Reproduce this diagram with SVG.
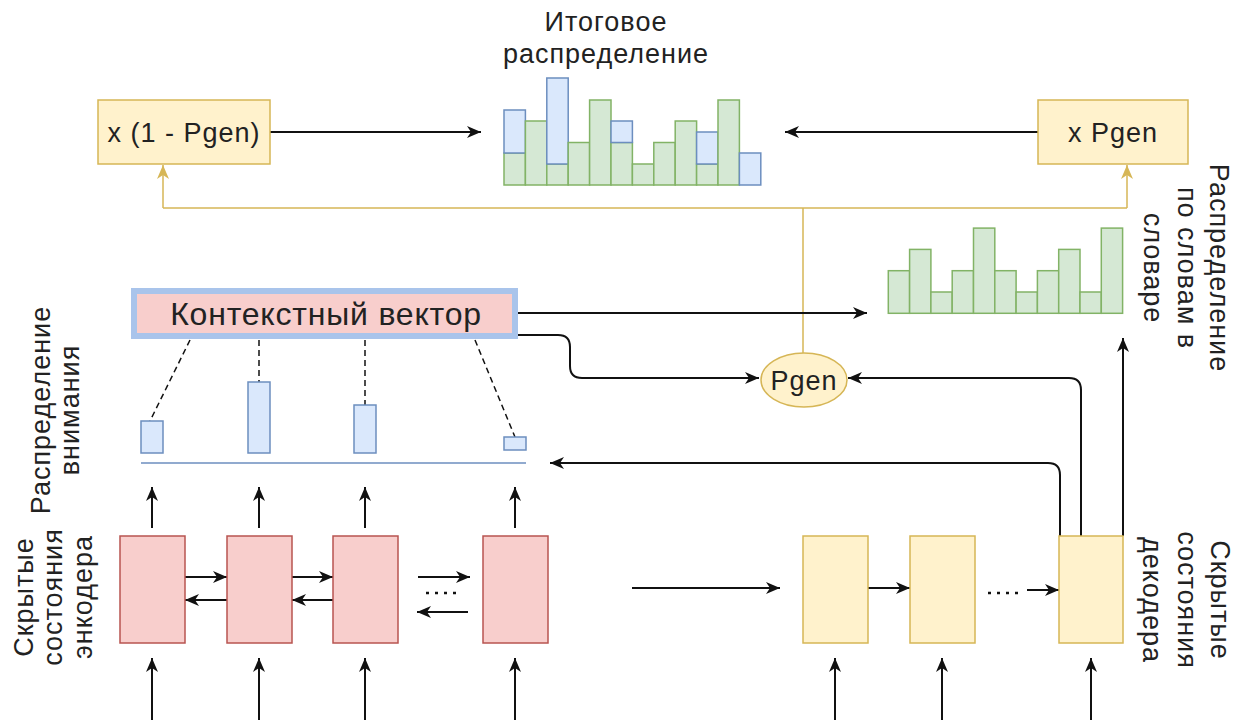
<svg xmlns="http://www.w3.org/2000/svg" width="1243" height="726" viewBox="0 0 1243 726">
  <defs>
    <marker id="arrow" viewBox="0 0 14 12" refX="14" refY="6" markerWidth="14" markerHeight="12" markerUnits="userSpaceOnUse" orient="auto">
      <path d="M0,0 L14,6 L0,12 L4,6 z" fill="#111"/>
    </marker>
    <marker id="arrow-gold" viewBox="0 0 14 12" refX="14" refY="6" markerWidth="14" markerHeight="12" markerUnits="userSpaceOnUse" orient="auto">
      <path d="M0,0 L14,6 L0,12 L4,6 z" fill="#d6b656"/>
    </marker>
    <style>
      .t { font-family: "Liberation Sans", Arial, sans-serif; font-size: 27px; letter-spacing: 1px; fill: #222; }
      .mid { text-anchor: middle; }
      .yel { fill: #fff2cc; stroke: #d6b656; stroke-width: 1.5; }
      .red { fill: #f8cecc; stroke: #b85450; stroke-width: 1.5; }
      .blu { fill: #dae8fc; stroke: #6c8ebf; stroke-width: 1.5; }
      .grn { fill: #d5e8d4; stroke: #82b366; stroke-width: 1.5; }
      .edge { fill: none; stroke: #111; stroke-width: 2; marker-end: url(#arrow); }
      .gold { fill: none; stroke: #d6b656; stroke-width: 1.5; }
      .gold-arrow { fill: none; stroke: #d6b656; stroke-width: 1.5; marker-end: url(#arrow-gold); }
      .dash { fill: none; stroke: #111; stroke-width: 1.5; stroke-dasharray: 6 4; }
      .dots { fill: none; stroke: #111; stroke-width: 2.5; stroke-dasharray: 3 6; }
    </style>
  </defs>

  <!-- connectors -->
  <g id="connectors">
    <!-- mixing weights to the final distribution -->
    <line class="edge" x1="270" y1="132" x2="481" y2="132"/>
    <line class="edge" x1="1038" y1="132" x2="785" y2="132"/>
    <!-- Pgen feeding both weight boxes -->
    <polyline class="gold" points="163,208 1127,208"/>
    <line class="gold" x1="803" y1="208" x2="803" y2="353"/>
    <line class="gold-arrow" x1="163" y1="208" x2="163" y2="165"/>
    <line class="gold-arrow" x1="1127" y1="208" x2="1127" y2="165"/>
    <!-- context vector outputs -->
    <line class="edge" x1="518" y1="313" x2="867" y2="313"/>
    <path class="edge" d="M518,335 H558 Q570,335 570,347 V366 Q570,378 582,378 H759"/>
    <!-- decoder state outputs -->
    <path class="edge" d="M1081,536 V390 Q1081,378 1069,378 H848"/>
    <path class="edge" d="M1060,536 V475 Q1060,463 1048,463 H550"/>
    <line class="edge" x1="1123" y1="536" x2="1123" y2="338"/>
    <!-- attention weights gathered into the context vector -->
    <line class="dash" x1="190" y1="340" x2="150" y2="421"/>
    <line class="dash" x1="259" y1="340" x2="259" y2="382"/>
    <line class="dash" x1="365" y1="340" x2="365" y2="405"/>
    <line class="dash" x1="475" y1="340" x2="515" y2="437"/>
    <!-- encoder: states up to attention, inputs from below -->
    <line class="edge" x1="152" y1="528" x2="152" y2="487"/>
    <line class="edge" x1="259" y1="528" x2="259" y2="487"/>
    <line class="edge" x1="365" y1="528" x2="365" y2="487"/>
    <line class="edge" x1="515" y1="528" x2="515" y2="487"/>
    <line class="edge" x1="152" y1="720" x2="152" y2="658"/>
    <line class="edge" x1="259" y1="720" x2="259" y2="658"/>
    <line class="edge" x1="365" y1="720" x2="365" y2="658"/>
    <line class="edge" x1="515" y1="720" x2="515" y2="658"/>
    <!-- bidirectional links -->
    <line class="edge" x1="185" y1="577" x2="227" y2="577"/>
    <line class="edge" x1="292" y1="577" x2="333" y2="577"/>
    <line class="edge" x1="227" y1="600" x2="185" y2="600"/>
    <line class="edge" x1="333" y1="600" x2="292" y2="600"/>
    <line class="edge" x1="418" y1="577" x2="470" y2="577"/>
    <line class="dots" x1="426" y1="593" x2="458" y2="593"/>
    <line class="edge" x1="468" y1="612" x2="417" y2="612"/>
    <!-- encoder to decoder -->
    <line class="edge" x1="632" y1="588" x2="780" y2="588"/>
    <!-- decoder chain and inputs -->
    <line class="edge" x1="868" y1="588" x2="910" y2="588"/>
    <line class="dots" x1="988" y1="593" x2="1020" y2="593"/>
    <line class="edge" x1="1027" y1="590" x2="1059" y2="590"/>
    <line class="edge" x1="835" y1="720" x2="835" y2="658"/>
    <line class="edge" x1="942" y1="720" x2="942" y2="658"/>
    <line class="edge" x1="1091" y1="720" x2="1091" y2="658"/>
  </g>

  <!-- weight (1 - Pgen) -->
  <g id="w-copy">
    <rect class="yel" x="98" y="100" width="172" height="64"/>
    <text class="t mid" x="184" y="142">x (1 - Pgen)</text>
  </g>

  <!-- weight Pgen -->
  <g id="w-gen">
    <rect class="yel" x="1038" y="100" width="150" height="64"/>
    <text class="t mid" x="1113" y="142">x Pgen</text>
  </g>

  <!-- final distribution -->
  <g id="final-dist">
    <text class="t mid" x="606" y="31">Итоговое</text>
    <text class="t mid" x="606" y="63">распределение</text>
    <g>
      <rect class="grn" x="504" y="153" width="21.4" height="32"/>
      <rect class="blu" x="504" y="110" width="21.4" height="43"/>
      <rect class="grn" x="525.4" y="121" width="21.4" height="64"/>
      <rect class="grn" x="546.8" y="164" width="21.4" height="21"/>
      <rect class="blu" x="546.8" y="78" width="21.4" height="86"/>
      <rect class="grn" x="568.2" y="142.5" width="21.4" height="42.5"/>
      <rect class="grn" x="589.6" y="100" width="21.4" height="85"/>
      <rect class="grn" x="611" y="142.5" width="21.4" height="42.5"/>
      <rect class="blu" x="611" y="121" width="21.4" height="21.5"/>
      <rect class="grn" x="632.4" y="164" width="21.4" height="21"/>
      <rect class="grn" x="653.8" y="142.5" width="21.4" height="42.5"/>
      <rect class="grn" x="675.2" y="121" width="21.4" height="64"/>
      <rect class="grn" x="696.6" y="164" width="21.4" height="21"/>
      <rect class="blu" x="696.6" y="132" width="21.4" height="32"/>
      <rect class="grn" x="718" y="100" width="21.4" height="85"/>
      <rect class="blu" x="739.4" y="153" width="21.4" height="32"/>
    </g>
  </g>

  <!-- vocabulary distribution -->
  <g id="vocab-dist">
    <rect class="grn" x="888.3" y="270.7" width="21.3" height="42.6"/>
    <rect class="grn" x="909.6" y="249.4" width="21.3" height="63.9"/>
    <rect class="grn" x="930.9" y="292" width="21.3" height="21.3"/>
    <rect class="grn" x="952.2" y="270.7" width="21.3" height="42.6"/>
    <rect class="grn" x="973.5" y="228.1" width="21.3" height="85.2"/>
    <rect class="grn" x="994.8" y="270.7" width="21.3" height="42.6"/>
    <rect class="grn" x="1016.1" y="292" width="21.3" height="21.3"/>
    <rect class="grn" x="1037.4" y="270.7" width="21.3" height="42.6"/>
    <rect class="grn" x="1058.7" y="249.4" width="21.3" height="63.9"/>
    <rect class="grn" x="1080" y="292" width="21.3" height="21.3"/>
    <rect class="grn" x="1101.3" y="228.1" width="21.3" height="85.2"/>
    <text class="t mid" transform="translate(1210,268) rotate(90)">Распределение</text>
    <text class="t mid" transform="translate(1178,268) rotate(90)">по словам в</text>
    <text class="t mid" transform="translate(1144,268) rotate(90)">словаре</text>
  </g>

  <!-- context vector -->
  <g id="context">
    <rect x="134" y="291" width="381" height="45" fill="#f8cecc" stroke="#a9c4eb" stroke-width="6"/>
    <text class="t mid" x="326" y="325" style="font-size:32px;letter-spacing:0.8px">Контекстный вектор</text>
  </g>

  <!-- generation probability -->
  <g id="pgen">
    <ellipse class="yel" cx="804" cy="380" rx="43" ry="27"/>
    <text class="t mid" x="804" y="390">Pgen</text>
  </g>

  <!-- attention distribution -->
  <g id="attention">
    <rect class="blu" x="141" y="421" width="22" height="32"/>
    <rect class="blu" x="248" y="382" width="22" height="71"/>
    <rect class="blu" x="354" y="405" width="22" height="48"/>
    <rect class="blu" x="504" y="437" width="22" height="13"/>
    <line x1="141" y1="463" x2="526" y2="463" stroke="#6c8ebf" stroke-width="1.5"/>
    <text class="t mid" transform="translate(50,410) rotate(-90)">Распределение</text>
    <text class="t mid" transform="translate(79,410) rotate(-90)">внимания</text>
  </g>

  <!-- encoder hidden states -->
  <g id="encoder">
    <rect class="red" x="120" y="536" width="65" height="107"/>
    <rect class="red" x="227" y="536" width="65" height="107"/>
    <rect class="red" x="333" y="536" width="65" height="107"/>
    <rect class="red" x="483" y="536" width="65" height="107"/>
    <text class="t mid" transform="translate(33,597) rotate(-90)">Скрытые</text>
    <text class="t mid" transform="translate(62,597) rotate(-90)">состояния</text>
    <text class="t mid" transform="translate(92,597) rotate(-90)">энкодера</text>
  </g>

  <!-- decoder hidden states -->
  <g id="decoder">
    <rect class="yel" x="803" y="536" width="65" height="107"/>
    <rect class="yel" x="910" y="536" width="65" height="107"/>
    <rect class="yel" x="1059" y="536" width="64" height="107"/>
    <text class="t mid" transform="translate(1211,600) rotate(90)">Скрытые</text>
    <text class="t mid" transform="translate(1178,600) rotate(90)">состояния</text>
    <text class="t mid" transform="translate(1143,600) rotate(90)">декодера</text>
  </g>
</svg>
